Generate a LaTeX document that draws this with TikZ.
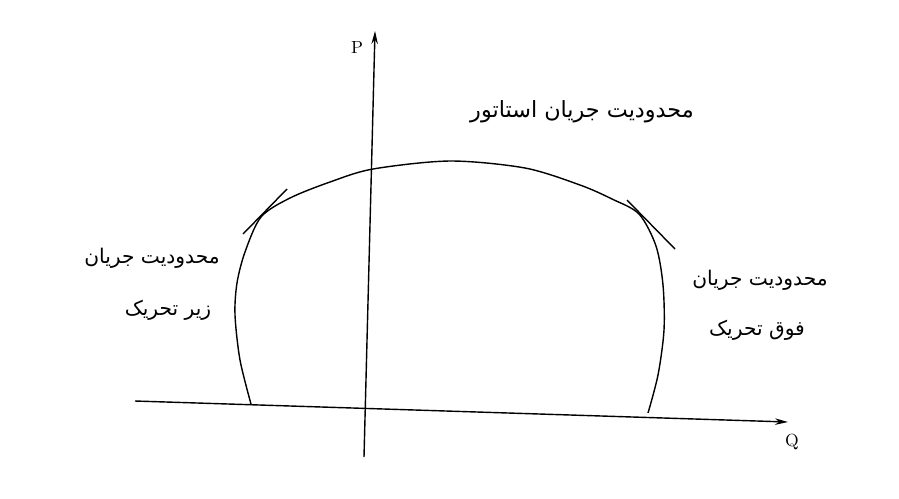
\documentclass[tikz,border=0pt]{standalone}
\usepackage{fontspec}
\newfontfamily\arabicfont[Script=Arabic]{DejaVu Sans}
\TeXXeTstate=1
\usetikzlibrary{arrows.meta, positioning}
\tikzset{
  axis/.style={line width=0.8pt, -{Stealth[length=2.6mm,width=1.3mm]}},
  limit/.style={line width=0.8pt},
  fa/.style={font=\arabicfont\fontsize{11.5}{13}\selectfont, inner sep=1pt}
}

\begin{document}
\begin{tikzpicture}[x=0.02cm, y=-0.02cm]
  \useasboundingbox (0,0) rectangle (899,498);
  % axes
  \coordinate (qs) at (135,401); \coordinate (qe) at (788,422);
  \coordinate (ps) at (364,457); \coordinate (pe) at (375,31);
  \draw[axis] (qs) -- (qe); \node (Q) at (792,442) {Q};
  \draw[axis] (ps) -- (pe); \node (P) at (357,47) {P};
  %
  \draw[limit] plot[smooth] coordinates {(251,404) (240,360) (235,315) (237,283) (245,252) (261,217) (290,198) (330,182) (373,169) (450,161) (525,168) (580,185) (612,199) (639,214) (656,246) (663,285) (664,330) (658,375) (648,413)};
  % tangents of the other limits
  \coordinate (l1) at (243,234); \coordinate (l2) at (287,189);
  \coordinate (r1) at (627,200); \coordinate (r2) at (675,249);
  \draw[limit] (l1) -- (l2);
  \draw[limit] (r1) -- (r2);
  %
  \node[fa, font=\arabicfont\fontsize{12.7}{14}\selectfont] (stator) at (582,112) {\beginR محدودیت جریان استاتور\endR};
  \node[fa] (under1) at (152,258) {\beginR محدودیت جریان\endR};
  \node[fa] (under2) at (168,310) {\beginR زیر تحریک\endR};
  \node[fa] (over1) at (760,280) {\beginR محدودیت جریان\endR};
  \node[fa] (over2) at (757,330) {\beginR فوق تحریک\endR};
\end{tikzpicture}
\end{document}
